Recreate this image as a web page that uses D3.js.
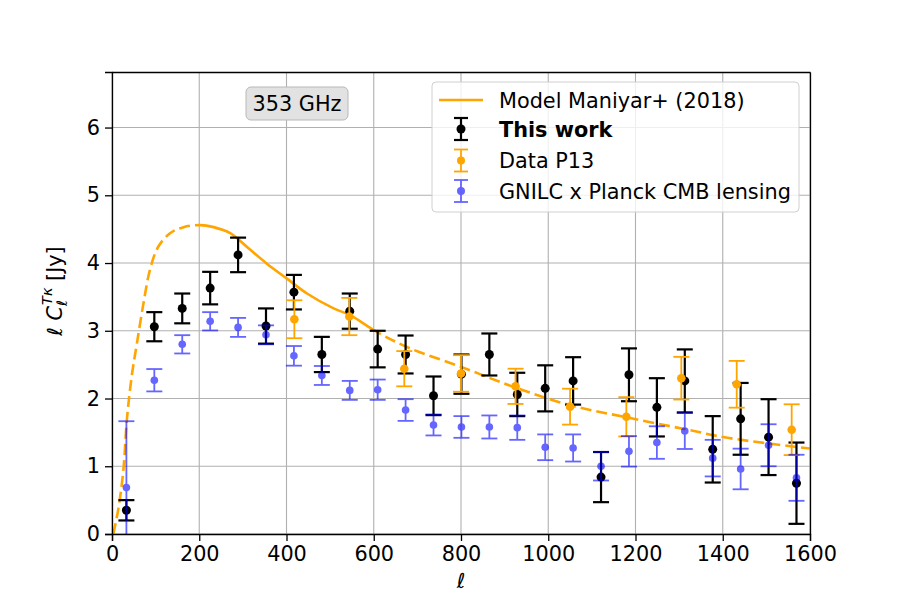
<!DOCTYPE html>
<meta charset="utf-8">
<style>
body { margin:0; background:#fff; }
svg text { font-family: "DejaVu Sans", sans-serif; }
.grid line { stroke:#b0b0b0; stroke-width:1.1px; }
.axis path, .axis line { stroke:#000; stroke-width:1.3px; }
.axis text { font-size:20.8px; fill:#000; }
</style>
<body>
<div id="chart"></div>
<script src="https://d3js.org/d3.v7.min.js"></script>
<script>
// multipoles of the bins
var ellBins = [33, 97, 161, 225, 289, 353, 417, 481, 545, 609, 673, 737, 801, 865, 929, 993, 1057, 1121, 1185, 1249, 1313, 1377, 1441, 1505, 1569];
// this work (black)
var workVal = [0.35, 3.06, 3.33, 3.63, 4.12, 3.07, 3.57, 2.65, 3.29, 2.73, 2.65, 2.04, 2.36, 2.65, 2.06, 2.15, 2.26, 0.84, 2.35, 1.87, 2.26, 1.25, 1.70, 1.43, 0.75];
var workErr = [0.15, 0.215, 0.22, 0.24, 0.255, 0.26, 0.255, 0.26, 0.26, 0.27, 0.28, 0.285, 0.29, 0.31, 0.32, 0.34, 0.35, 0.37, 0.39, 0.43, 0.465, 0.49, 0.53, 0.56, 0.60];
// GNILC x Planck lensing (blue)
var gnilcVal = [0.685, 2.27, 2.80, 3.14, 3.05, 2.94, 2.63, 2.34, 2.12, 2.13, 1.83, 1.61, 1.58, 1.58, 1.57, 1.28, 1.27, 1.00, 1.22, 1.35, 1.52, 1.12, 0.96, 1.31, 0.83];
var gnilcErr = [0.98, 0.165, 0.135, 0.135, 0.14, 0.14, 0.145, 0.14, 0.14, 0.15, 0.16, 0.155, 0.16, 0.17, 0.18, 0.19, 0.2, 0.21, 0.225, 0.24, 0.265, 0.27, 0.30, 0.31, 0.34];
// Planck 2013 data (orange)
var p13Ell = [418, 544, 670, 800, 925, 1050, 1179, 1305, 1432, 1558];
var p13Val = [3.17, 3.21, 2.44, 2.37, 2.18, 1.88, 1.73, 2.30, 2.21, 1.54];
var p13Err = [0.28, 0.275, 0.26, 0.27, 0.26, 0.265, 0.29, 0.315, 0.345, 0.375];
// model Maniyar+ (2018)
var modelEll = [3, 14, 26, 34, 45, 57, 72, 87, 106, 133, 164, 202, 233, 271, 309, 355, 401, 447, 508, 546, 600, 676, 799, 921, 1051, 1181, 1319, 1411, 1602];
var modelVal = [0, 0.35, 0.94, 1.68, 2.32, 2.81, 3.40, 3.90, 4.24, 4.44, 4.53, 4.56, 4.53, 4.44, 4.24, 3.99, 3.77, 3.55, 3.33, 3.23, 3.01, 2.76, 2.47, 2.17, 1.90, 1.72, 1.54, 1.42, 1.26];
var xTicks = [0, 200, 400, 600, 800, 1000, 1200, 1400, 1600];
var yTicks = [0, 1, 2, 3, 4, 5, 6];

var margin = {top: 72, right: 90, bottom: 66, left: 112},
    width = 900 - margin.left - margin.right,
    height = 600 - margin.top - margin.bottom;

var x = d3.scaleLinear().domain([0, 1600]).range([0, width]);
var y = d3.scaleLinear().domain([0, 6.82]).range([height, 0]);

var svg = d3.select("#chart").append("svg")
    .attr("width", 900).attr("height", 600)
  .append("g")
    .attr("transform", "translate(" + margin.left + "," + margin.top + ")");

// gridlines
var grid = svg.append("g").attr("class", "grid");
grid.selectAll(".gx").data(xTicks).enter().append("line")
    .attr("x1", d => x(d)).attr("x2", d => x(d)).attr("y1", 0).attr("y2", height);
grid.selectAll(".gy").data(yTicks).enter().append("line")
    .attr("y1", d => y(d)).attr("y2", d => y(d)).attr("x1", 0).attr("x2", width);

var defs = svg.append("defs");
defs.append("clipPath").attr("id", "plotclip").append("rect").attr("width", width).attr("height", height);
defs.append("clipPath").attr("id", "solidclip").append("rect")
    .attr("x", x(200)).attr("width", x(600) - x(200)).attr("y", -10).attr("height", height + 20);
var dc = defs.append("clipPath").attr("id", "dashclip");
dc.append("rect").attr("x", -10).attr("width", x(200) + 10).attr("y", -10).attr("height", height + 20);
dc.append("rect").attr("x", x(600)).attr("width", width - x(600) + 10).attr("y", -10).attr("height", height + 20);

var modelData = modelEll.map((e, i) => [e, modelVal[i]]);
var line = d3.line().x(d => x(d[0])).y(d => y(d[1])).curve(d3.curveCatmullRom.alpha(0.5));

var plot = svg.append("g").attr("clip-path", "url(#plotclip)");
plot.append("g").attr("clip-path", "url(#solidclip)").append("path")
    .datum(modelData).attr("d", line)
    .attr("fill", "none").attr("stroke", "orange").attr("stroke-width", 2.6);
plot.append("g").attr("clip-path", "url(#dashclip)").append("path")
    .datum(modelData).attr("d", line)
    .attr("fill", "none").attr("stroke", "orange").attr("stroke-width", 2.6)
    .attr("stroke-dasharray", "11,5");

function errorbars(g, ells, vals, errs, color, lw, r, opacity) {
  var pts = ells.map((e, i) => ({e: e, v: vals[i], s: errs[i]}));
  var grp = g.append("g").attr("opacity", opacity);
  var cap = 8;
  pts.forEach(function(d) {
    var cx = x(d.e), lo = Math.max(d.v - d.s, -0.2);
    grp.append("line").attr("x1", cx).attr("x2", cx).attr("y1", y(d.v + d.s)).attr("y2", y(lo))
       .attr("stroke", color).attr("stroke-width", lw);
    [d.v + d.s, d.v - d.s].forEach(function(c) {
      grp.append("line").attr("x1", cx - cap).attr("x2", cx + cap).attr("y1", y(c)).attr("y2", y(c))
         .attr("stroke", color).attr("stroke-width", lw);
    });
    grp.append("circle").attr("cx", cx).attr("cy", y(d.v)).attr("r", r).attr("fill", color);
  });
}

errorbars(plot, ellBins, workVal, workErr, "#000", 2.2, 4.5, 1);
errorbars(plot, p13Ell, p13Val, p13Err, "orange", 1.8, 4.3, 1);
errorbars(plot, ellBins, gnilcVal, gnilcErr, "#0000ff", 1.8, 3.8, 0.6);

// axes
svg.append("g").attr("class", "axis")
    .attr("transform", "translate(0," + height + ")")
    .call(d3.axisBottom(x).tickValues(xTicks).tickSize(7).tickPadding(5).tickFormat(d3.format("d")));
svg.append("g").attr("class", "axis")
    .call(d3.axisLeft(y).tickValues(yTicks).tickSize(7).tickPadding(5).tickFormat(d3.format("d")));
svg.append("g").attr("class", "axis").attr("transform", "translate(" + width + ",0)")
    .call(d3.axisRight(y).tickValues([]).tickSize(0));
svg.append("g").attr("class", "axis")
    .call(d3.axisTop(x).tickValues([]).tickSize(0));

// axis labels
svg.append("text").attr("x", width / 2).attr("y", height + 54)
    .attr("text-anchor", "middle").attr("font-size", 20.8).attr("font-style", "italic").text("ℓ");
var yl = svg.append("text").attr("transform", "translate(-50," + (height / 2 - 12) + ") rotate(-90)")
    .attr("text-anchor", "middle").attr("font-size", 20.8);
yl.append("tspan").attr("font-style", "italic").text("ℓ C");
yl.append("tspan").attr("font-style", "italic").attr("font-size", 14.5).attr("dy", 5).text("ℓ");
yl.append("tspan").attr("font-style", "italic").attr("font-size", 14.5).attr("dx", -5).attr("dy", -15).text("Tκ");
yl.append("tspan").attr("dy", 10).text(" [Jy]");

// frequency label
var fb = svg.append("g").attr("transform", "translate(" + (297 - margin.left) + "," + (103 - margin.top) + ")");
fb.append("rect").attr("x", -51).attr("y", -16).attr("width", 102).attr("height", 33).attr("rx", 5)
    .attr("fill", "#e2e2e2").attr("stroke", "#b8b8b8").attr("stroke-width", 1);
fb.append("text").attr("text-anchor", "middle").attr("dy", "0.36em").attr("font-size", 20.8).text("353 GHz");

// legend
var lg = svg.append("g").attr("transform", "translate(" + (432 - margin.left) + "," + (82 - margin.top) + ")");
lg.append("rect").attr("width", 367).attr("height", 130).attr("rx", 4)
    .attr("fill", "#fff").attr("fill-opacity", 0.8).attr("stroke", "#d0d0d0");
var labels = ["Model Maniyar+ (2018)", "This work", "Data P13", "GNILC x Planck CMB lensing"];
var colors = ["orange", "#000", "orange", "#0000ff"];
var rows = [18, 47, 78.5, 109];
labels.forEach(function(t, i) {
  var g = lg.append("g").attr("transform", "translate(0," + rows[i] + ")");
  if (i === 0) {
    g.append("line").attr("x1", 7).attr("x2", 51).attr("stroke", "orange").attr("stroke-width", 2.6);
  } else {
    var eg = g.append("g").attr("opacity", i === 3 ? 0.6 : 1).attr("stroke", colors[i])
        .attr("stroke-width", i === 1 ? 2.2 : 1.8);
    eg.append("line").attr("x1", 29).attr("x2", 29).attr("y1", -11).attr("y2", 11);
    eg.append("line").attr("x1", 22).attr("x2", 36).attr("y1", -11).attr("y2", -11);
    eg.append("line").attr("x1", 22).attr("x2", 36).attr("y1", 11).attr("y2", 11);
    eg.append("circle").attr("cx", 29).attr("r", i === 1 ? 4.5 : 4).attr("fill", colors[i]).attr("stroke", "none");
  }
  g.append("text").attr("x", 67).attr("dy", "0.36em").attr("font-size", 20.8)
      .attr("font-weight", i === 1 ? "bold" : "normal").text(t);
});
</script>
</body>
